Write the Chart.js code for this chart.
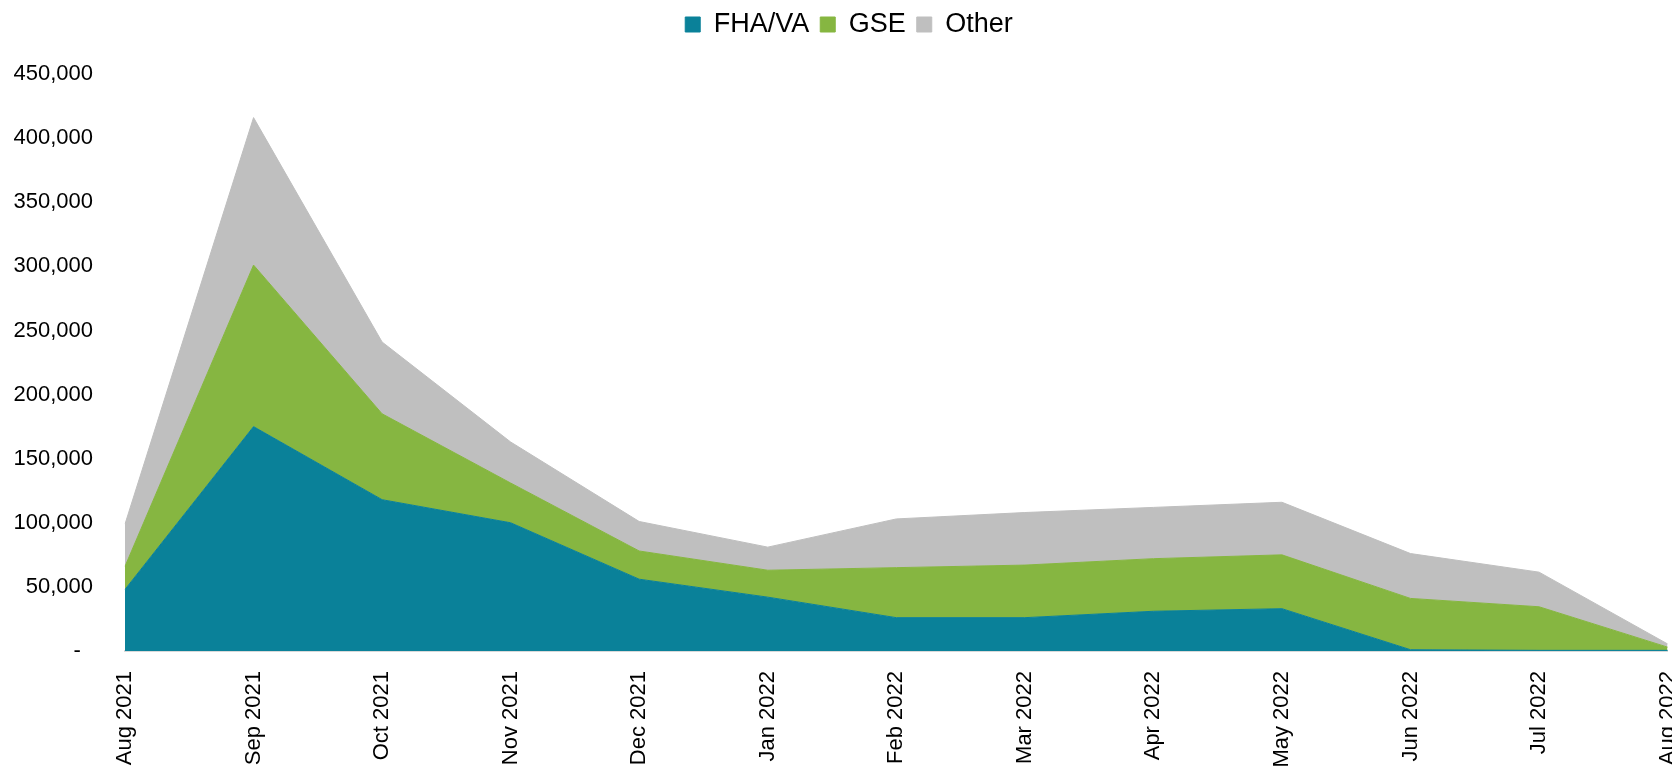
<!DOCTYPE html>
<html>
<head>
<meta charset="utf-8">
<script src="https://cdn.jsdelivr.net/npm/chart.js@4"></script>
<style>
    html, body { margin: 0; padding: 0; background: #fff; overflow: hidden; }
    #wrap { width: 1730px; height: 766px; margin-left: -16px; }
</style>
</head>
<body>
<div id="wrap"><canvas id="grafico"></canvas></div>
<script>
// meses do eixo x
const meses = ["Aug 2021", "Sep 2021", "Oct 2021", "Nov 2021", "Dec 2021", "Jan 2022",
    "Feb 2022", "Mar 2022", "Apr 2022", "May 2022", "Jun 2022", "Jul 2022", "Aug 2022"];

// valores (empilhados)
const fhaVa = [48000, 175000, 118000, 100000, 56000, 42000, 26000, 26000, 31000, 33000, 1000, 500, 500];
const gse = [18000, 126000, 67000, 31000, 22000, 21000, 39000, 41000, 41000, 42000, 40000, 34000, 2500];
const outros = [33000, 115000, 56000, 32000, 23000, 18000, 38000, 41000, 40000, 41000, 35000, 27000, 2500];

const yMax = 450000;
const yStep = 50000;

const fonte = "'Liberation Sans', Arial, sans-serif";

function serie(label, data, cor, fill) {
    return {
        label: label,
        data: data,
        backgroundColor: cor,
        borderColor: cor,
        borderWidth: 1,
        pointRadius: 0,
        tension: 0,
        fill: fill
    };
}

// espaco extra abaixo da legenda
const espacoLegenda = {
    id: "espacoLegenda",
    beforeInit(chart) {
        const fitOriginal = chart.legend.fit;
        chart.legend.fit = function () {
            fitOriginal.call(this);
            this.height += 26;
        };
    }
};

const ctx = document.getElementById("grafico").getContext("2d");

new Chart(ctx, {
    type: "line",
    data: {
        labels: meses,
        datasets: [
            serie("FHA/VA", fhaVa, "#0a8199", "origin"),
            serie("GSE", gse, "#86b641", "-1"),
            serie("Other", outros, "#bfbfbf", "-1")
        ]
    },
    plugins: [espacoLegenda],
    options: {
        responsive: true,
        maintainAspectRatio: false,
        animation: false,
        layout: { padding: { top: 0 } },
        plugins: {
            legend: {
                display: true,
                position: "top",
                labels: {
                    boxWidth: 15,
                    boxHeight: 15,
                    padding: 11,
                    color: "#000",
                    font: { family: fonte, size: 27 }
                }
            },
            tooltip: { enabled: false }
        },
        scales: {
            x: {
                grid: { display: false, drawTicks: false },
                border: { display: true, color: "#d9d9d9", width: 2 },
                ticks: {
                    color: "#000",
                    font: { family: fonte, size: 22 },
                    maxRotation: 90,
                    minRotation: 90,
                    padding: 20,
                    autoSkip: false
                },
                afterFit: function (scale) {
                    scale.height = 115;
                }
            },
            y: {
                stacked: true,
                min: 0,
                max: yMax,
                grid: { display: false, drawTicks: false },
                border: { display: false },
                ticks: {
                    stepSize: yStep,
                    color: "#000",
                    padding: 32,
                    font: { family: fonte, size: 22 },
                    callback: function (value) {
                        if (value === 0) return "-  ";
                        return value.toLocaleString("en-US");
                    }
                },
                afterFit: function (scale) {
                    scale.width = 141;
                }
            }
        }
    }
});
</script>
</body>
</html>
